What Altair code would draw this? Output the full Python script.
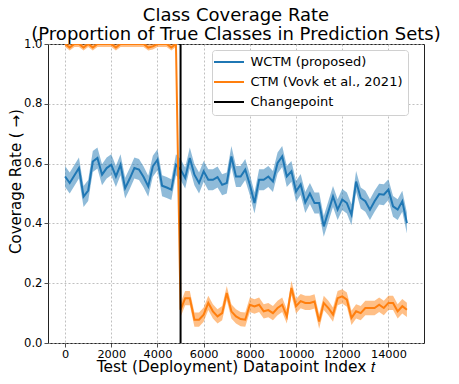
import altair as alt
import pandas as pd

# ---------------- data ----------------
t_index = list(range(0, 15000, 200))  # 0 .. 14800, every 200

wctm = [0.557, 0.535, 0.560, 0.585, 0.490,
        0.510, 0.607, 0.619, 0.563, 0.585,
        0.596, 0.557, 0.596, 0.518, 0.550,
        0.585, 0.580, 0.555, 0.524, 0.591,
        0.613, 0.526, 0.520, 0.513, 0.596,
        0.580, 0.552, 0.619, 0.563, 0.535,
        0.574, 0.546, 0.546, 0.555, 0.529,
        0.535, 0.624, 0.557, 0.557, 0.580,
        0.529, 0.468, 0.546, 0.546, 0.557,
        0.540, 0.602, 0.624, 0.557, 0.574,
        0.507, 0.530, 0.470, 0.500, 0.468,
        0.468, 0.390, 0.440, 0.490, 0.446,
        0.480, 0.468, 0.429, 0.540, 0.485,
        0.474, 0.446, 0.474, 0.498, 0.496,
        0.513, 0.457, 0.446, 0.474, 0.401]

ctm = [1.000, 0.988, 1.000, 1.000, 0.988,
       1.000, 0.988, 1.000, 1.000, 1.000,
       1.000, 0.988, 1.000, 1.000, 1.000,
       1.000, 1.000, 1.000, 0.988, 0.992,
       1.000, 1.000, 1.000, 0.988, 1.000,
       0.111, 0.150, 0.150, 0.078, 0.078,
       0.095, 0.134, 0.106, 0.089, 0.100,
       0.167, 0.106, 0.089, 0.080, 0.078,
       0.128, 0.122, 0.128, 0.106, 0.110,
       0.100, 0.117, 0.128, 0.089, 0.184,
       0.123, 0.140, 0.134, 0.134, 0.139,
       0.072, 0.134, 0.117, 0.095, 0.150,
       0.156, 0.145, 0.084, 0.106, 0.100,
       0.117, 0.117, 0.117, 0.128, 0.117,
       0.134, 0.134, 0.106, 0.123, 0.111]

wctm_half_width = 0.035
ctm_half_width_before = 0.010
ctm_half_width_after = 0.024
changepoint = 5000

series_names = ["WCTM (proposed)", "CTM (Vovk et al., 2021)", "Changepoint"]
series_colors = ["#1f77b4", "#ff7f0e", "#000000"]
series_widths = [2.0, 2.0, 3.5]

x_ticks = [0, 2000, 4000, 6000, 8000, 10000, 12000, 14000]
y_ticks = [0.0, 0.2, 0.4, 0.6, 0.8, 1.0]

# ---------------- tables ----------------
df_w = pd.DataFrame({"t": t_index, "v": wctm, "series": series_names[0]})
df_w["lo"] = df_w["v"] - wctm_half_width
df_w["hi"] = df_w["v"] + wctm_half_width

df_c = pd.DataFrame({"t": t_index, "v": ctm, "series": series_names[1]})
hw = [ctm_half_width_before if t < changepoint else ctm_half_width_after for t in t_index]
df_c["lo"] = df_c["v"] - pd.Series(hw)
df_c["hi"] = df_c["v"] + pd.Series(hw)

df_lines = pd.concat([df_w, df_c], ignore_index=True)
df_cp = pd.DataFrame({"t": [changepoint], "series": [series_names[2]]})

FONT = "DejaVu Sans"

xs = alt.Scale(domain=[-740, 15540], nice=False, zero=False)
ys = alt.Scale(domain=[0, 1], nice=False, zero=False)

legend = alt.Legend(
    title=None, orient="none", legendX=164, legendY=6,
    fillColor="white", strokeColor="#d0d0d0", cornerRadius=3, padding=5.5,
    labelFont=FONT, labelFontSize=13, labelColor="black",
    symbolType="M-3,0H3", symbolSize=100, symbolOffset=5, labelOffset=15,
    rowPadding=6,
)
color = alt.Color("series:N", scale=alt.Scale(domain=series_names, range=series_colors), legend=legend)
swidth = alt.StrokeWidth("series:N", scale=alt.Scale(domain=series_names, range=series_widths), legend=legend)

x_enc = alt.X("t:Q", scale=xs, axis=alt.Axis(values=x_ticks, format="d",
              title="Test (Deployment) Datapoint Index 𝑡", titlePadding=0.5,
              titleFontSize=15.4, labelFontSize=11.3, labelPadding=1))
y_axis = alt.Axis(values=y_ticks, format=".1f", title="Coverage Rate ( →)",
                  titleFontSize=15, titleX=-25, titleY=137)

band_w = alt.Chart(df_w).mark_area(clip=True, opacity=0.5, color="#1f77b4").encode(
    x=x_enc, y=alt.Y("lo:Q", scale=ys, axis=y_axis), y2="hi:Q")
band_c = alt.Chart(df_c).mark_area(clip=True, opacity=0.5, color="#ff7f0e").encode(
    x="t:Q", y=alt.Y("lo:Q", scale=ys), y2="hi:Q")

lines = alt.Chart(df_lines).mark_line(clip=True).encode(
    x="t:Q", y=alt.Y("v:Q", scale=ys), color=color, strokeWidth=swidth)

rule = alt.Chart(df_cp).mark_rule(clip=True).encode(
    x="t:Q", color=color, strokeWidth=swidth)

chart = alt.layer(band_w, band_c, lines, rule).properties(
    width=376, height=299,
    title=alt.Title(["Class Coverage Rate", "(Proportion of True Classes in Prediction Sets)"],
                    font=FONT, fontSize=18, fontWeight="normal", color="black",
                    lineHeight=18.5, offset=-5.5, anchor="middle"),
    autosize=alt.AutoSizeParams(type="none"),
    padding={"left": 40, "top": 36, "right": 27, "bottom": 33},
).configure_axis(
    grid=True, gridDash=[2, 2], gridColor="#b0b0b0", gridWidth=0.8,
    domain=False, tickColor="#222", tickSize=4, tickWidth=0.8,
    labelFont=FONT, labelFontSize=11.6, labelColor="black", labelPadding=2,
    titleFont=FONT, titleFontSize=16.5, titleFontWeight="normal", titleColor="black",
).configure_view(
    stroke="#222", strokeWidth=1
)

chart.save("out.html", embed_options={"renderer": "svg", "actions": False})
